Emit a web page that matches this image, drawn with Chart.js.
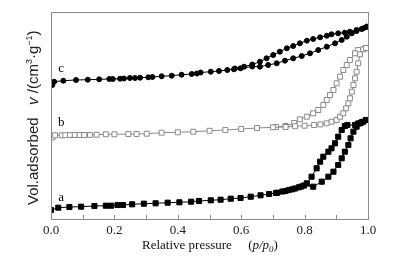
<!DOCTYPE html>
<html>
<head>
<meta charset="utf-8">
<script src="https://cdn.jsdelivr.net/npm/chart.js@4.4.0/dist/chart.umd.min.js"></script>
<style>
html,body{margin:0;padding:0;background:#fff;}
#wrap{width:394px;height:260px;}
</style>
</head>
<body>
<div id="wrap"><canvas id="c" width="394" height="260"></canvas></div>
<script>
// Relative pressure p/p0 and adsorbed volume (arbitrary units, curves offset)
const xTicks = [0.0, 0.2, 0.4, 0.6, 0.8, 1.0];
const seriesLabels = ['a', 'b', 'c'];

const aAdsX = [0.0,0.023,0.058,0.095,0.137,0.173,0.19,0.21,0.227,0.256,0.293,0.33,0.368,0.405,0.442,0.467,0.504,0.535,0.567,0.598,0.63,0.661,0.688,0.714,0.74,0.761,0.782,0.798,0.827,0.854,0.875,0.891,0.906,0.917,0.927,0.938,0.945,0.954,0.964,0.975,0.985,0.994];
const aAdsY = [9,11.3,12,12.3,13,13.3,13.3,14,14,14.7,15.3,15.7,16.3,16.7,17.3,18,18.7,19.3,20.3,21,22.3,23.7,25,26.3,28,29.7,31.7,33.5,32.3,37.3,42.3,47.3,54,60.7,67.3,74,80.7,87.3,92.3,95.7,97.3,99];
const aDesX = [0.994,0.98,0.969,0.959,0.935,0.927,0.917,0.906,0.896,0.885,0.875,0.859,0.849,0.838,0.822,0.807,0.79,0.77,0.75,0.73,0.71];
const aDesY = [99,96.7,95.5,94,94,93,89,82.3,75.7,70.7,67.3,62.3,57.3,50.7,42.3,35.7,32.5,30.5,29,27.5,26];

const bAdsX = [0.005,0.013,0.034,0.045,0.06,0.075,0.09,0.105,0.123,0.144,0.173,0.2,0.244,0.27,0.302,0.349,0.40,0.449,0.50,0.55,0.60,0.65,0.70,0.74,0.77,0.80,0.83,0.85,0.870,0.885,0.901,0.912,0.922,0.931,0.938,0.943,0.949,0.954,0.959,0.964,0.969,0.975,0.985,0.994];
const bAdsY = [81.7,83.7,83.7,83.8,83.9,84,84,84,84.1,84.3,84.7,84.7,85,85,85.3,86.3,86.7,87.3,88.2,89,90,91,91.7,92,92.7,93.3,94,94.6,95.7,97.3,99,102.3,105.7,110.7,115.7,120.7,127.3,134,140.7,147.3,155.7,164.7,169.7,171];
const bDesX = [0.994,0.991,0.969,0.959,0.943,0.933,0.922,0.912,0.901,0.891,0.880,0.870,0.859,0.843,0.827,0.807,0.785,0.767,0.74,0.71];
const bDesY = [171,170.7,169,165.7,159,154,149,142.3,135.7,129,124,119,114,109,105.7,102.3,99.7,96,93,92];

const cAdsX = [0.004,0.01,0.039,0.079,0.116,0.152,0.184,0.195,0.218,0.23,0.249,0.265,0.281,0.307,0.32,0.349,0.381,0.412,0.444,0.46,0.472,0.504,0.53,0.556,0.577,0.598,0.635,0.659,0.685,0.712,0.738,0.764,0.791,0.817,0.843,0.870,0.896,0.917,0.933,0.949,0.964,0.98,0.996];
const cAdsY = [134,137.3,138.3,139,139.3,139.7,140,140,140.3,140.5,141,141,141.3,141.7,142,142.7,143.3,144.3,145,145.5,146.5,147.3,148,149,149.7,150.7,152.5,152.3,154,155.7,158.3,160.7,163,165.7,169,172.3,175.7,179,182.3,185.7,188,190,192.3];
const cDesX = [0.996,0.985,0.964,0.943,0.927,0.906,0.885,0.870,0.849,0.827,0.807,0.785,0.764,0.744,0.722,0.701,0.680,0.659,0.635,0.609,0.58];
const cDesY = [192.3,190.7,189,187.3,186.3,185.7,184.7,183.3,181.7,180,178.3,175.7,173,170.7,167.3,164,160.7,157.3,154.5,152.3,150.5];

const seriesLabelY = [21, 96, 150];

function pts(xs, ys){ return xs.map((x,i)=>({x:x, y:ys[i]})); }

const black = '#000000';
const gray = '#8a8a8a';

function ds(data, color, style, radius, filled){
  return {
    data: data,
    showLine: true,
    borderColor: color,
    borderWidth: 1,
    pointStyle: style,
    pointRadius: radius,
    pointBorderWidth: 1,
    pointBorderColor: color,
    pointBackgroundColor: filled ? color : '#ffffff',
    tension: 0
  };
}

const boxPlugin = {
  id: 'box',
  afterDraw(chart){
    const ctx = chart.ctx, a = chart.chartArea;
    const xs = chart.scales.x, ys = chart.scales.y;
    ctx.save();
    ctx.strokeStyle = '#8c8c8c';
    ctx.lineWidth = 1;
    ctx.strokeRect(Math.round(a.left)+0.5, Math.round(a.top)+0.5, Math.round(a.right-a.left), Math.round(a.bottom-a.top));
    // inward ticks on the bottom axis
    xs.ticks.forEach(t=>{
      const px = Math.round(xs.getPixelForValue(t.value))+0.5;
      ctx.beginPath();
      ctx.moveTo(px, a.bottom);
      ctx.lineTo(px, a.bottom-4);
      ctx.stroke();
    });
    // series labels
    ctx.fillStyle = '#000';
    ctx.font = '13px "Liberation Serif"';
    ctx.textAlign = 'center';
    ctx.textBaseline = 'middle';
    seriesLabels.forEach((s,i)=>{
      ctx.fillText(s, xs.getPixelForValue(0.032), ys.getPixelForValue(seriesLabelY[i]));
    });
    // x-axis title
    ctx.fillStyle = '#111';
    ctx.textAlign = 'left';
    ctx.textBaseline = 'alphabetic';
    let x = 142, y = 249;
    const segs = [
      ['Relative pressure', '13px "Liberation Serif"', 0],
      ['     (', '13px "Liberation Serif"', 0],
      ['p/p', 'italic 13px "Liberation Serif"', 0],
      ['0', 'italic 9px "Liberation Serif"', 3],
      [')', '13px "Liberation Serif"', 0]
    ];
    segs.forEach(s=>{
      ctx.font = s[1];
      ctx.fillText(s[0], x, y + s[2]);
      x += ctx.measureText(s[0]).width;
    });
    // y-axis title, rotated
    ctx.fillStyle = '#222';
    ctx.translate(38, 205);
    ctx.rotate(-Math.PI/2);
    let tx = 0;
    const ysegs = [
      ['Vol.adsorbed', '15px "Liberation Sans"', 0],
      ['   ', '15px "Liberation Sans"', 0],
      ['v', 'italic 15px "Liberation Sans"', 0],
      [' /(cm', '15px "Liberation Sans"', 0],
      ['3', '9px "Liberation Sans"', -6],
      ['\u00B7g', '15px "Liberation Sans"', 0],
      ['\u22121', '9px "Liberation Sans"', -6],
      [')', '15px "Liberation Sans"', 0]
    ];
    ysegs.forEach(s=>{
      ctx.font = s[1];
      ctx.fillText(s[0], tx, s[2]);
      tx += ctx.measureText(s[0]).width;
    });
    ctx.restore();
  }
};

new Chart(document.getElementById('c'), {
  type: 'scatter',
  data: {
    datasets: [
      ds(pts(aAdsX, aAdsY), black, 'rect', 3.6, true),
      ds(pts(aDesX, aDesY), black, 'rect', 3.6, true),
      ds(pts(bAdsX, bAdsY), gray, 'rect', 3.5, false),
      ds(pts(bDesX, bDesY), gray, 'rect', 3.5, false),
      ds(pts(cAdsX, cAdsY), black, 'circle', 2.5, true),
      ds(pts(cDesX, cDesY), black, 'circle', 2.5, true)
    ]
  },
  options: {
    responsive: false,
    animation: false,
    layout: { padding: { left: 51, right: 26, top: 12, bottom: 0 } },
    plugins: { legend: { display: false }, tooltip: { enabled: false } },
    scales: {
      x: {
        type: 'linear',
        min: 0, max: 1,
        grid: { display: false, drawTicks: false },
        border: { display: false },
        afterFit(s){ s.height = 41; },
        ticks: {
          stepSize: 0.1,
          autoSkip: false,
          maxRotation: 0,
          padding: 4,
          color: '#222',
          font: { family: 'Liberation Serif', size: 13 },
          callback(v){ return Math.round(v*10) % 2 === 0 ? v.toFixed(1) : ''; }
        }
      },
      y: {
        type: 'linear',
        min: 0, max: 207,
        display: false
      }
    }
  },
  plugins: [boxPlugin]
});
</script>
</body>
</html>
